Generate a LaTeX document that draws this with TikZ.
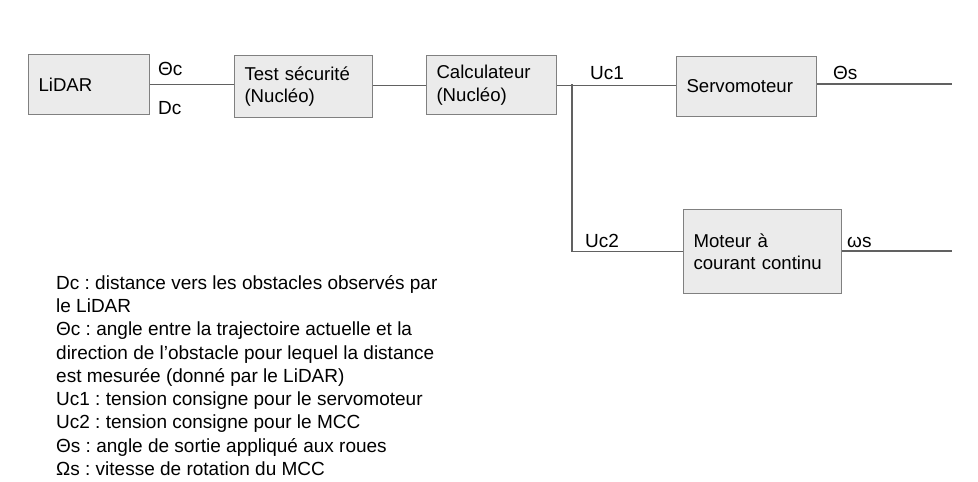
\documentclass[tikz,border=0pt]{standalone}
\usepackage{fontspec}
\setmainfont{Liberation Sans}
\frenchspacing
\begin{document}
\begin{tikzpicture}[x=1pt,y=-1pt,
  blk/.style={draw=black!50,fill=black!8,line width=1.1pt,rectangle,anchor=north west,
    inner xsep=10pt,inner ysep=0pt,align=left,font=\fontsize{18.6}{22.5}\selectfont},
  wire/.style={draw=black!62,line width=1.1pt},
  sig/.style={font=\fontsize{19}{22}\selectfont,inner sep=0pt,anchor=base west}]
\useasboundingbox (0,0) rectangle (978,482);
\node[blk,minimum width=121pt,text width=101pt,minimum height=60pt] (lidar) at (28,54) {LiDAR};
\node[blk,minimum width=138pt,text width=118pt,minimum height=62pt] (test) at (234,55) {Test sécurité\\(Nucléo)};
\node[blk,minimum width=130pt,text width=110pt,minimum height=59pt] (calc) at (426,55) {Calculateur\\(Nucléo)};
\node[blk,minimum width=140pt,text width=120pt,minimum height=60pt] (servo) at (676,56) {Servomoteur};
\node[blk,minimum width=158pt,text width=138pt,minimum height=84pt] (mcc) at (683,209) {Moteur à\\courant continu};
\coordinate (br) at (572,84);
\coordinate (thout) at (952,84);
\coordinate (omout) at (952,251);
\draw[wire] (lidar.east) -- (lidar.east -| test.west);
\draw[wire] (calc.west -| test.east) -- (calc.west);
\draw[wire] (calc.east) -- (calc.east -| servo.west);
\draw[wire] (br) |- (mcc.west);
\draw[wire] (servo.east |- thout) -- (thout);
\draw[wire] (mcc.east |- omout) -- (omout);
\node[sig] (lthc) at (158,75) {Θc};
\node[sig] (ldc) at (158,114) {Dc};
\node[sig] (luc1) at (590,79) {Uc1};
\node[sig] (lths) at (833,79) {Θs};
\node[sig] (luc2) at (585,247) {Uc2};
\node[sig] (lws) at (847,247) {ωs};
\node[anchor=north west,inner sep=0pt,align=left,font=\fontsize{19}{23.3}\selectfont] (legend) at (56,275)
{Dc : distance vers les obstacles observés par\\
le LiDAR\\
Θc : angle entre la trajectoire actuelle et la\\
direction de l’obstacle pour lequel la distance\\
est mesurée (donné par le LiDAR)\\
Uc1 : tension consigne pour le servomoteur\\
Uc2 : tension consigne pour le MCC\\
Θs : angle de sortie appliqué aux roues\\
Ωs : vitesse de rotation du MCC};
\end{tikzpicture}
\end{document}
